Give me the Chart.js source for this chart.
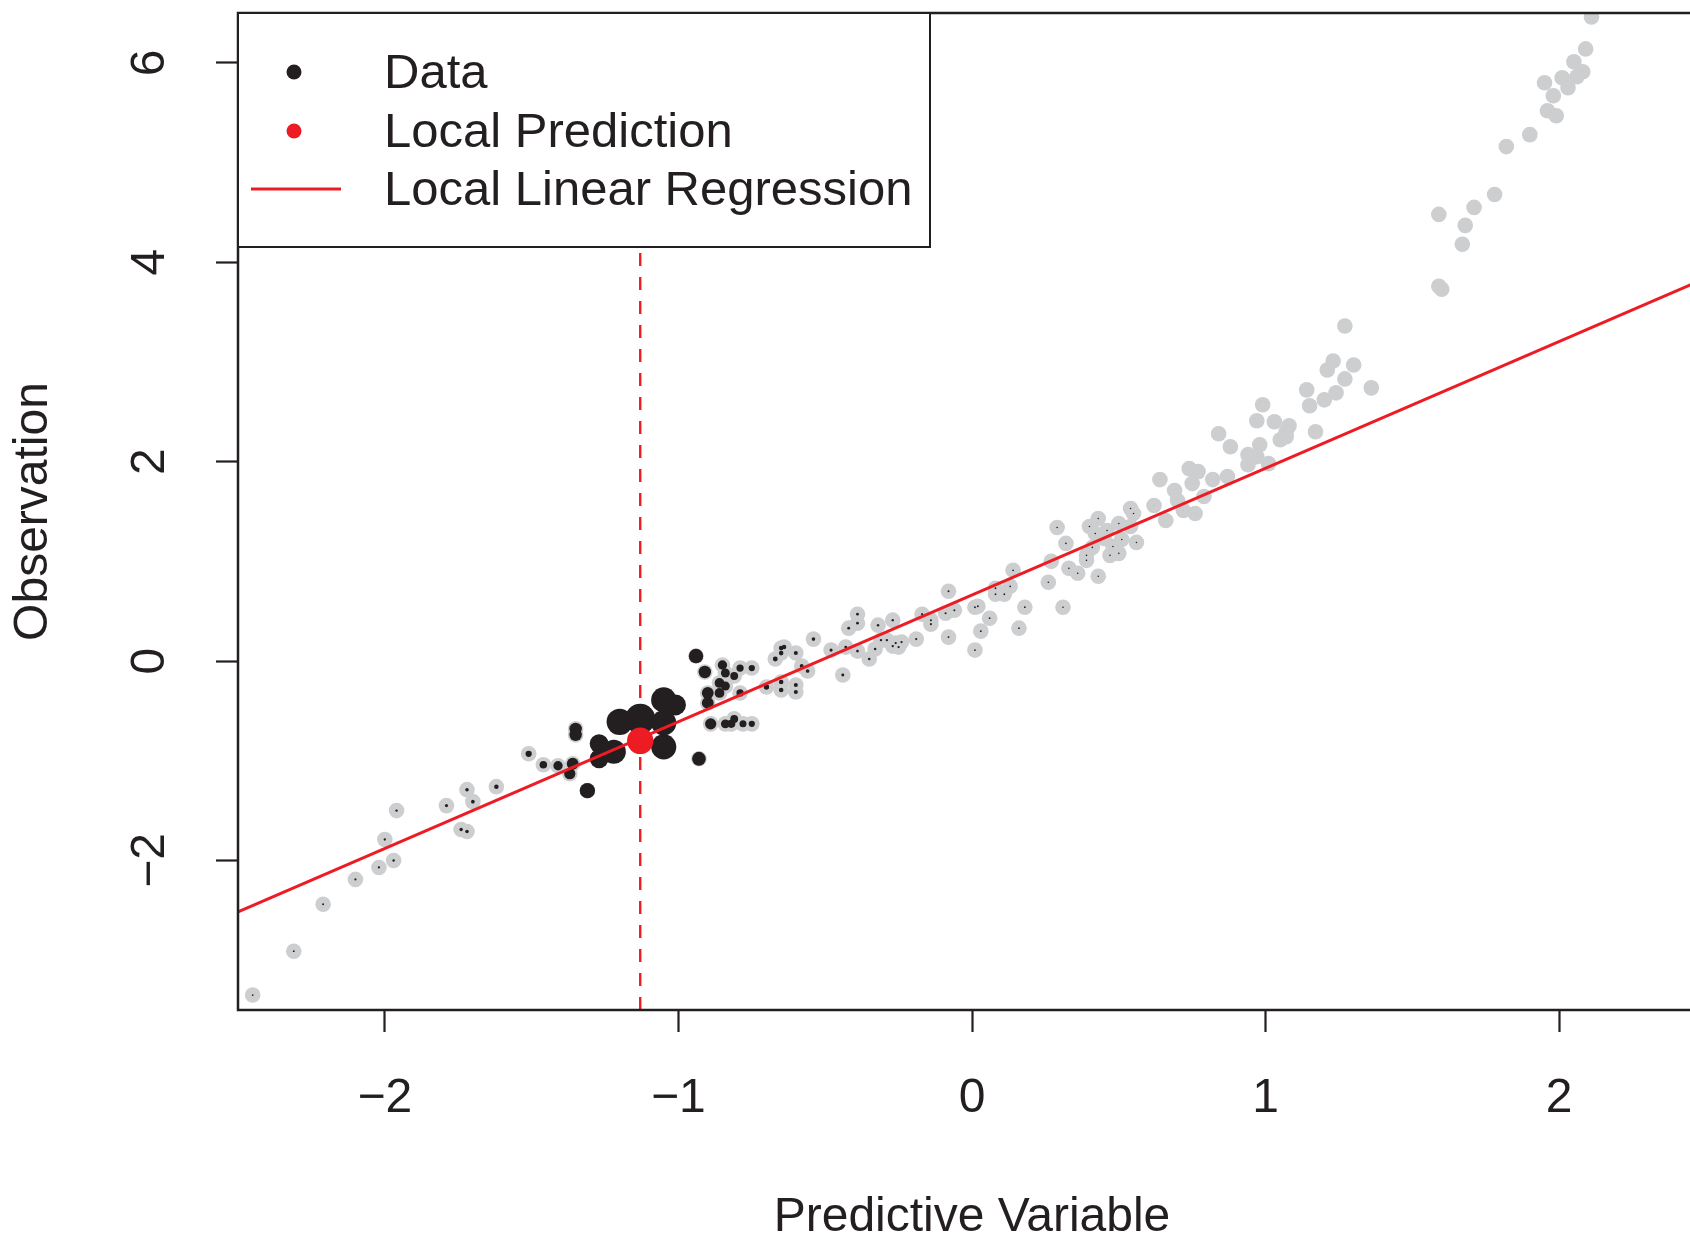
<!DOCTYPE html>
<html>
<head>
<meta charset="utf-8">
<script src="https://cdn.jsdelivr.net/npm/chart.js@4/dist/chart.umd.min.js"></script>
<style>
  html, body { margin: 0; padding: 0; background: #fff; overflow: hidden; }
  #wrap { width: 1690px; height: 1236px; overflow: hidden; }
</style>
</head>
<body>
<div id="wrap"><canvas id="chart" width="1760" height="1236" style="width:1760px;height:1236px"></canvas></div>
<script>
// observations (predictive variable, observation)
const obsX = [
  -2.45, -2.31, -2.21, -2.10, -2.02, -1.97, -2.00, -1.96, -1.79, -1.72, -1.70, -1.62, -1.74, -1.72,
  -1.51, -1.46, -1.41, -1.36, -1.37, -1.35, -1.35, -1.31,
  -1.27, -1.27, -1.22, -1.20, -1.13, -1.05, -1.01, -1.05, -1.05, -0.94, -0.93,
  -0.91, -0.85, -0.84, -0.81, -0.79, -0.75, -0.86, -0.84, -0.86, -0.90, -0.90, -0.79,
  -0.89, -0.84, -0.82, -0.81, -0.78, -0.75,
  -0.65, -0.64, -0.65, -0.67, -0.60, -0.65, -0.65, -0.60, -0.60, -0.70,
  -0.54, -0.58, -0.56, -0.44, -0.48, -0.43, -0.39, -0.35, -0.42, -0.39, -0.39, -0.32, -0.27,
  -0.33, -0.31, -0.29, -0.26, -0.27, -0.25, -0.24, -0.19, -0.17, -0.14, -0.14, -0.09, -0.08,
  -0.06, -0.08, 0.01, 0.01, 0.02, 0.06, 0.03, 0.08, 0.08, 0.11, 0.13, 0.14, 0.16, 0.18,
  0.26, 0.27, 0.31,
  0.29, 0.32, 0.33, 0.36, 0.43, 0.39, 0.39, 0.41, 0.40, 0.43, 0.42, 0.45, 0.46, 0.47, 0.48,
  0.50, 0.51, 0.50, 0.54, 0.54, 0.55, 0.56, 0.62, 0.66, 0.64, 0.69, 0.70, 0.72, 0.76, 0.74,
  0.77, 0.75, 0.79, 0.82, 0.87, 0.88, 0.94, 0.94, 0.97, 0.98,
  1.27, 1.23, 1.21, 1.30, 1.27, 1.24, 1.20, 1.15, 1.14, 1.36, 0.99, 0.97, 1.03, 1.08, 1.07,
  1.05, 1.07, 1.17, 0.84, 1.01,
  2.11, 2.09, 2.05, 2.08, 2.06, 2.01, 2.03, 1.95, 1.98, 1.96, 1.99, 1.90, 1.82, 1.78, 1.71,
  1.68, 1.67, 1.59, 1.59, 1.60
];
const obsY = [
  -3.35, -2.91, -2.44, -2.19, -2.07, -2.00, -1.79, -1.50, -1.45, -1.29, -1.41, -1.26, -1.69, -1.71,
  -0.93, -1.04, -1.05, -1.03, -1.13, -0.68, -0.74, -1.30,
  -0.83, -0.98, -0.91, -0.61, -0.58, -0.39, -0.44, -0.62, -0.86, 0.05, -0.98,
  -0.11, -0.04, -0.12, -0.15, -0.07, -0.07, -0.22, -0.25, -0.32, -0.32, -0.42, -0.32,
  -0.63, -0.63, -0.63, -0.58, -0.63, -0.63,
  0.13, 0.14, 0.08, 0.02, 0.08, -0.21, -0.29, -0.24, -0.31, -0.26,
  0.22, -0.05, -0.10, -0.14, 0.11, 0.14, 0.10, 0.02, 0.33, 0.38, 0.47, 0.36, 0.41,
  0.12, 0.21, 0.21, 0.18, 0.15, 0.14, 0.19, 0.22, 0.47, 0.41, 0.37, 0.48, 0.70,
  0.51, 0.24, 0.11, 0.54, 0.55, 0.43, 0.30, 0.73, 0.67, 0.67, 0.75, 0.91, 0.33, 0.54,
  0.79, 1.00, 0.54,
  1.34, 1.18, 0.93, 0.88, 0.85, 1.01, 1.06, 1.14, 1.35, 1.43, 1.28, 1.23, 1.31, 1.06, 1.15,
  1.08, 1.22, 1.38, 1.35, 1.53, 1.48, 1.19, 1.56, 1.41, 1.82, 1.71, 1.61, 1.51, 1.48, 1.93,
  1.90, 1.78, 1.65, 1.82, 1.85, 2.15, 2.07, 1.97, 2.05, 2.17,
  3.36, 3.01, 2.92, 2.97, 2.83, 2.69, 2.62, 2.56, 2.72, 2.74, 2.57, 2.41, 2.40, 2.36, 2.30,
  2.22, 2.25, 2.30, 2.28, 1.98,
  6.46, 6.14, 6.01, 5.91, 5.86, 5.85, 5.75, 5.80, 5.67, 5.52, 5.47, 5.28, 5.16, 4.68, 4.55,
  4.37, 4.18, 4.48, 3.76, 3.73
];

// local prediction point
const predX = [-1.13];
const predY = [-0.80];

// local linear regression line, end points
const fitX = [-2.5, 2.5];
const fitY = [-2.515, 3.84];

const xTicks = [-2, -1, 0, 1, 2];
const yTicks = [-2, 0, 2, 4, 6];
const xRange = [-2.5, 2.5];
const yRange = [-3.5, 6.5];

const legendLabels = ['Data', 'Local Prediction', 'Local Linear Regression'];
const xTitle = 'Predictive Variable';
const yTitle = 'Observation';

const ink = '#231F20';
const red = '#ED1C24';
const grey = '#CDCECF';
const family = "'Liberation Sans', Arial, Helvetica, sans-serif";

const points = obsX.map((x, i) => ({ x: x, y: obsY[i] }));

// black dot size follows the kernel weight around the prediction point
const bandwidth = 0.175;
function weightRadius(ctx) {
  if (!ctx.raw) return 0;
  const d = Math.abs(ctx.raw.x - predX[0]);
  return 14.5 / (1 + (d / bandwidth) ** 2) + (d < 1.75 ? 0.6 : 0);
}

const minus = v => (v < 0 ? '\u2212' + Math.abs(v) : String(v));

const frameAndLegend = {
  id: 'frameAndLegend',
  afterDatasetsDraw(chart) {
    const { ctx, chartArea: a } = chart;
    ctx.save();
    ctx.strokeStyle = ink;
    ctx.lineWidth = 2.5;
    ctx.strokeRect(a.left, a.top, a.right - a.left, a.bottom - a.top);

    // legend box, top-left inside the plot
    const lx = a.left, ly = a.top, lw = 692, lh = 234;
    ctx.fillStyle = '#fff';
    ctx.fillRect(lx, ly, lw, lh);
    ctx.lineWidth = 2;
    ctx.strokeRect(lx, ly, lw, lh);

    const rows = [ly + 59, ly + 118, ly + 176];
    ctx.fillStyle = ink;
    ctx.beginPath();
    ctx.arc(lx + 56, rows[0], 7.5, 0, Math.PI * 2);
    ctx.fill();
    ctx.fillStyle = red;
    ctx.beginPath();
    ctx.arc(lx + 56, rows[1], 7.5, 0, Math.PI * 2);
    ctx.fill();
    ctx.strokeStyle = red;
    ctx.lineWidth = 2.8;
    ctx.beginPath();
    ctx.moveTo(lx + 13, rows[2]);
    ctx.lineTo(lx + 103, rows[2]);
    ctx.stroke();

    ctx.fillStyle = ink;
    ctx.font = '49px ' + family;
    ctx.textBaseline = 'middle';
    ctx.textAlign = 'left';
    legendLabels.forEach((t, i) => ctx.fillText(t, lx + 146, rows[i] + 2.5));
    ctx.restore();
  }
};

const axisFont = { family: family, size: 48 };
const tickGrid = {
  drawOnChartArea: false,
  drawTicks: true,
  tickLength: 22,
  tickWidth: 2.2,
  tickColor: ink
};

new Chart(document.getElementById('chart'), {
  type: 'scatter',
  data: {
    datasets: [
      {
        type: 'line',
        data: [{ x: predX[0], y: yRange[0] }, { x: predX[0], y: yRange[1] }],
        borderColor: red,
        borderWidth: 2.4,
        borderDash: [13, 11],
        pointRadius: 0,
        clip: 0,
        order: 5
      },
      {
        data: points,
        backgroundColor: grey,
        borderWidth: 0,
        pointRadius: 7.8,
        clip: 0,
        order: 4
      },
      {
        data: points,
        backgroundColor: ink,
        borderWidth: 0,
        pointRadius: weightRadius,
        clip: 0,
        order: 3
      },
      {
        type: 'line',
        data: fitX.map((x, i) => ({ x: x, y: fitY[i] })),
        borderColor: red,
        borderWidth: 3,
        pointRadius: 0,
        clip: 0,
        order: 2
      },
      {
        data: predX.map((x, i) => ({ x: x, y: predY[i] })),
        backgroundColor: red,
        borderWidth: 0,
        pointRadius: 13.2,
        clip: 0,
        order: 1
      }
    ]
  },
  options: {
    responsive: false,
    devicePixelRatio: 1,
    animation: false,
    events: [],
    layout: { autoPadding: false, padding: { top: 13, right: 54, bottom: 0, left: 0 } },
    plugins: {
      legend: { display: false },
      tooltip: { enabled: false }
    },
    scales: {
      x: {
        type: 'linear',
        min: xRange[0],
        max: xRange[1],
        afterBuildTicks: s => { s.ticks = xTicks.map(v => ({ value: v })); },
        afterFit: s => { s.height = 226; s.paddingLeft = 0; s.paddingRight = 0; },
        grid: tickGrid,
        border: { display: false },
        ticks: { color: ink, font: axisFont, padding: 38, maxRotation: 0, callback: minus },
        title: {
          display: true,
          text: xTitle,
          color: ink,
          font: { family: family, size: 48, lineHeight: 0.75 },
          padding: 0
        }
      },
      y: {
        type: 'linear',
        min: yRange[0],
        max: yRange[1],
        afterBuildTicks: s => { s.ticks = yTicks.map(v => ({ value: v })); },
        afterFit: s => { s.width = 238; s.paddingTop = 0; s.paddingBottom = 0; },
        grid: tickGrid,
        border: { display: false },
        ticks: {
          color: ink,
          font: axisFont,
          padding: 38,
          minRotation: 90,
          maxRotation: 90,
          crossAlign: 'center',
          callback: minus
        },
        title: {
          display: true,
          text: yTitle,
          color: ink,
          font: { family: family, size: 48, lineHeight: 1 },
          padding: { top: 10, bottom: 0 }
        }
      }
    }
  },
  plugins: [frameAndLegend]
});
</script>
</body>
</html>
